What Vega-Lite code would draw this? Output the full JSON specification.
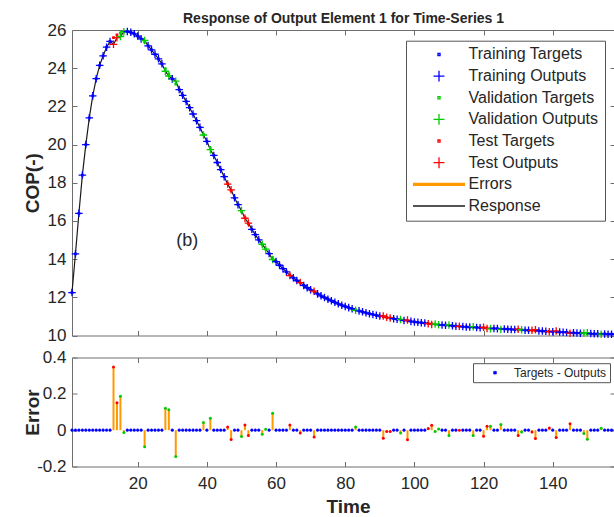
{
  "$schema": "https://vega.github.io/schema/vega-lite/v6.json",
  "background": "white",
  "autosize": {"type": "pad"},
  "padding": {"left": 22, "top": 11, "right": 0, "bottom": 0},
  "config": {
    "view": {"stroke": "#6e6e6e", "strokeWidth": 1},
    "font": "Liberation Sans",
    "axis": {"domain": false, "grid": false, "tickColor": "#6e6e6e", "tickSize": -5, "tickWidth": 1,
      "labelFont": "Liberation Sans", "labelFontSize": 17, "labelColor": "#262626",
      "titleFont": "Liberation Sans", "titleFontSize": 19, "titleFontWeight": "bold", "titleColor": "#262626"}
  },
  "datasets": {
    "d": [
      {"t":1,"set":"Training","target":12.25,"output":12.25,"error":0},
      {"t":2,"set":"Training","target":14.28,"output":14.28,"error":0},
      {"t":3,"set":"Training","target":16.4,"output":16.4,"error":0},
      {"t":4,"set":"Training","target":18.4,"output":18.4,"error":0},
      {"t":5,"set":"Training","target":20,"output":20,"error":0},
      {"t":6,"set":"Training","target":21.4,"output":21.4,"error":0},
      {"t":7,"set":"Training","target":22.55,"output":22.55,"error":0},
      {"t":8,"set":"Training","target":23.45,"output":23.45,"error":0},
      {"t":9,"set":"Training","target":24.15,"output":24.15,"error":0},
      {"t":10,"set":"Training","target":24.65,"output":24.65,"error":0},
      {"t":11,"set":"Training","target":25.1,"output":25.1,"error":0},
      {"t":12,"set":"Training","target":25.4,"output":25.4,"error":0},
      {"t":13,"set":"Test","target":25.6,"output":25.25,"error":0.348},
      {"t":14,"set":"Test","target":25.75,"output":25.6,"error":0.151},
      {"t":15,"set":"Validation","target":25.85,"output":25.66,"error":0.187},
      {"t":16,"set":"Validation","target":25.9,"output":25.91,"error":-0.013},
      {"t":17,"set":"Training","target":25.92,"output":25.92,"error":0},
      {"t":18,"set":"Training","target":25.88,"output":25.88,"error":0},
      {"t":19,"set":"Training","target":25.8,"output":25.8,"error":0},
      {"t":20,"set":"Training","target":25.68,"output":25.68,"error":0},
      {"t":21,"set":"Training","target":25.53,"output":25.53,"error":0},
      {"t":22,"set":"Validation","target":25.36,"output":25.45,"error":-0.091},
      {"t":23,"set":"Training","target":25.17,"output":25.17,"error":0},
      {"t":24,"set":"Training","target":24.96,"output":24.96,"error":0},
      {"t":25,"set":"Training","target":24.73,"output":24.73,"error":0},
      {"t":26,"set":"Training","target":24.49,"output":24.49,"error":0},
      {"t":27,"set":"Training","target":24.23,"output":24.23,"error":0},
      {"t":28,"set":"Validation","target":23.96,"output":23.84,"error":0.12},
      {"t":29,"set":"Validation","target":23.7,"output":23.59,"error":0.113},
      {"t":30,"set":"Training","target":23.44,"output":23.44,"error":0},
      {"t":31,"set":"Validation","target":23.17,"output":23.32,"error":-0.145},
      {"t":32,"set":"Training","target":22.88,"output":22.88,"error":0},
      {"t":33,"set":"Training","target":22.58,"output":22.58,"error":0},
      {"t":34,"set":"Training","target":22.26,"output":22.26,"error":0},
      {"t":35,"set":"Training","target":21.93,"output":21.93,"error":0},
      {"t":36,"set":"Training","target":21.6,"output":21.6,"error":0},
      {"t":37,"set":"Training","target":21.25,"output":21.25,"error":0},
      {"t":38,"set":"Training","target":20.9,"output":20.9,"error":0},
      {"t":39,"set":"Validation","target":20.54,"output":20.5,"error":0.042},
      {"t":40,"set":"Training","target":20.17,"output":20.17,"error":0},
      {"t":41,"set":"Validation","target":19.8,"output":19.73,"error":0.066},
      {"t":42,"set":"Training","target":19.43,"output":19.43,"error":0},
      {"t":43,"set":"Training","target":19.06,"output":19.06,"error":0},
      {"t":44,"set":"Training","target":18.69,"output":18.69,"error":0},
      {"t":45,"set":"Training","target":18.32,"output":18.32,"error":0},
      {"t":46,"set":"Test","target":17.95,"output":17.93,"error":0.018},
      {"t":47,"set":"Test","target":17.58,"output":17.63,"error":-0.051},
      {"t":48,"set":"Training","target":17.21,"output":17.21,"error":0},
      {"t":49,"set":"Training","target":16.85,"output":16.85,"error":0},
      {"t":50,"set":"Validation","target":16.5,"output":16.54,"error":-0.035},
      {"t":51,"set":"Test","target":16.17,"output":16.14,"error":0.029},
      {"t":52,"set":"Test","target":15.86,"output":15.89,"error":-0.03},
      {"t":53,"set":"Training","target":15.56,"output":15.56,"error":0},
      {"t":54,"set":"Training","target":15.28,"output":15.28,"error":0},
      {"t":55,"set":"Training","target":15.01,"output":15.01,"error":0},
      {"t":56,"set":"Validation","target":14.76,"output":14.78,"error":-0.022},
      {"t":57,"set":"Validation","target":14.52,"output":14.52,"error":0.005},
      {"t":58,"set":"Training","target":14.29,"output":14.29,"error":0},
      {"t":59,"set":"Validation","target":14.07,"output":13.98,"error":0.093},
      {"t":60,"set":"Training","target":13.87,"output":13.87,"error":0},
      {"t":61,"set":"Training","target":13.68,"output":13.68,"error":0},
      {"t":62,"set":"Training","target":13.5,"output":13.5,"error":0},
      {"t":63,"set":"Training","target":13.33,"output":13.33,"error":0},
      {"t":64,"set":"Test","target":13.17,"output":13.14,"error":0.029},
      {"t":65,"set":"Training","target":13.02,"output":13.02,"error":0},
      {"t":66,"set":"Training","target":12.88,"output":12.88,"error":0},
      {"t":67,"set":"Test","target":12.75,"output":12.77,"error":-0.016},
      {"t":68,"set":"Training","target":12.62,"output":12.62,"error":0},
      {"t":69,"set":"Training","target":12.5,"output":12.5,"error":0},
      {"t":70,"set":"Training","target":12.39,"output":12.39,"error":0},
      {"t":71,"set":"Test","target":12.28,"output":12.32,"error":-0.037},
      {"t":72,"set":"Training","target":12.18,"output":12.18,"error":0},
      {"t":73,"set":"Training","target":12.08,"output":12.08,"error":0},
      {"t":74,"set":"Training","target":11.99,"output":11.99,"error":0},
      {"t":75,"set":"Training","target":11.9,"output":11.9,"error":0},
      {"t":76,"set":"Training","target":11.82,"output":11.82,"error":0},
      {"t":77,"set":"Training","target":11.74,"output":11.74,"error":0},
      {"t":78,"set":"Training","target":11.66,"output":11.66,"error":0},
      {"t":79,"set":"Training","target":11.59,"output":11.59,"error":0},
      {"t":80,"set":"Training","target":11.52,"output":11.52,"error":0},
      {"t":81,"set":"Training","target":11.46,"output":11.46,"error":0},
      {"t":82,"set":"Training","target":11.4,"output":11.4,"error":0},
      {"t":83,"set":"Validation","target":11.34,"output":11.32,"error":0.018},
      {"t":84,"set":"Training","target":11.29,"output":11.29,"error":0},
      {"t":85,"set":"Training","target":11.24,"output":11.24,"error":0},
      {"t":86,"set":"Training","target":11.19,"output":11.19,"error":0},
      {"t":87,"set":"Training","target":11.14,"output":11.14,"error":0},
      {"t":88,"set":"Training","target":11.1,"output":11.1,"error":0},
      {"t":89,"set":"Training","target":11.06,"output":11.06,"error":0},
      {"t":90,"set":"Training","target":11.02,"output":11.02,"error":0},
      {"t":91,"set":"Test","target":10.98,"output":11.02,"error":-0.044},
      {"t":92,"set":"Test","target":10.94,"output":10.95,"error":-0.008},
      {"t":93,"set":"Test","target":10.91,"output":10.92,"error":-0.008},
      {"t":94,"set":"Training","target":10.88,"output":10.88,"error":0},
      {"t":95,"set":"Training","target":10.85,"output":10.85,"error":0},
      {"t":96,"set":"Validation","target":10.82,"output":10.84,"error":-0.015},
      {"t":97,"set":"Training","target":10.79,"output":10.79,"error":0},
      {"t":98,"set":"Test","target":10.76,"output":10.81,"error":-0.053},
      {"t":99,"set":"Training","target":10.74,"output":10.74,"error":0},
      {"t":100,"set":"Training","target":10.71,"output":10.71,"error":0},
      {"t":101,"set":"Training","target":10.69,"output":10.69,"error":0},
      {"t":102,"set":"Training","target":10.67,"output":10.67,"error":0},
      {"t":103,"set":"Training","target":10.65,"output":10.65,"error":0},
      {"t":104,"set":"Test","target":10.63,"output":10.62,"error":0.009},
      {"t":105,"set":"Test","target":10.61,"output":10.58,"error":0.027},
      {"t":106,"set":"Validation","target":10.59,"output":10.6,"error":-0.008},
      {"t":107,"set":"Validation","target":10.57,"output":10.56,"error":0.007},
      {"t":108,"set":"Training","target":10.55,"output":10.55,"error":0},
      {"t":109,"set":"Training","target":10.54,"output":10.54,"error":0},
      {"t":110,"set":"Validation","target":10.52,"output":10.55,"error":-0.03},
      {"t":111,"set":"Training","target":10.51,"output":10.51,"error":0},
      {"t":112,"set":"Training","target":10.49,"output":10.49,"error":0},
      {"t":113,"set":"Test","target":10.48,"output":10.48,"error":0},
      {"t":114,"set":"Training","target":10.47,"output":10.47,"error":0},
      {"t":115,"set":"Training","target":10.45,"output":10.45,"error":0},
      {"t":116,"set":"Training","target":10.44,"output":10.44,"error":0},
      {"t":117,"set":"Validation","target":10.43,"output":10.46,"error":-0.03},
      {"t":118,"set":"Training","target":10.42,"output":10.42,"error":0},
      {"t":119,"set":"Training","target":10.41,"output":10.41,"error":0},
      {"t":120,"set":"Test","target":10.4,"output":10.43,"error":-0.033},
      {"t":121,"set":"Test","target":10.39,"output":10.37,"error":0.022},
      {"t":122,"set":"Validation","target":10.38,"output":10.36,"error":0.022},
      {"t":123,"set":"Training","target":10.37,"output":10.37,"error":0},
      {"t":124,"set":"Training","target":10.36,"output":10.36,"error":0},
      {"t":125,"set":"Validation","target":10.35,"output":10.32,"error":0.031},
      {"t":126,"set":"Training","target":10.34,"output":10.34,"error":0},
      {"t":127,"set":"Training","target":10.33,"output":10.33,"error":0},
      {"t":128,"set":"Training","target":10.32,"output":10.32,"error":0},
      {"t":129,"set":"Training","target":10.31,"output":10.31,"error":0},
      {"t":130,"set":"Test","target":10.3,"output":10.33,"error":-0.03},
      {"t":131,"set":"Validation","target":10.29,"output":10.3,"error":-0.01},
      {"t":132,"set":"Training","target":10.28,"output":10.28,"error":0},
      {"t":133,"set":"Training","target":10.27,"output":10.27,"error":0},
      {"t":134,"set":"Test","target":10.26,"output":10.27,"error":-0.01},
      {"t":135,"set":"Test","target":10.25,"output":10.3,"error":-0.046},
      {"t":136,"set":"Training","target":10.24,"output":10.24,"error":0},
      {"t":137,"set":"Training","target":10.23,"output":10.23,"error":0},
      {"t":138,"set":"Training","target":10.22,"output":10.22,"error":0},
      {"t":139,"set":"Test","target":10.21,"output":10.2,"error":0.012},
      {"t":140,"set":"Training","target":10.2,"output":10.2,"error":0},
      {"t":141,"set":"Test","target":10.19,"output":10.23,"error":-0.04},
      {"t":142,"set":"Training","target":10.18,"output":10.18,"error":0},
      {"t":143,"set":"Training","target":10.17,"output":10.17,"error":0},
      {"t":144,"set":"Training","target":10.16,"output":10.16,"error":0},
      {"t":145,"set":"Test","target":10.15,"output":10.12,"error":0.035},
      {"t":146,"set":"Training","target":10.14,"output":10.14,"error":0},
      {"t":147,"set":"Training","target":10.13,"output":10.13,"error":0},
      {"t":148,"set":"Training","target":10.12,"output":10.12,"error":0},
      {"t":149,"set":"Validation","target":10.11,"output":10.13,"error":-0.018},
      {"t":150,"set":"Validation","target":10.1,"output":10.15,"error":-0.05},
      {"t":151,"set":"Training","target":10.1,"output":10.1,"error":0},
      {"t":152,"set":"Training","target":10.09,"output":10.09,"error":0},
      {"t":153,"set":"Training","target":10.09,"output":10.09,"error":0},
      {"t":154,"set":"Validation","target":10.08,"output":10.07,"error":0.01},
      {"t":155,"set":"Training","target":10.08,"output":10.08,"error":0},
      {"t":156,"set":"Training","target":10.07,"output":10.07,"error":0},
      {"t":157,"set":"Training","target":10.07,"output":10.07,"error":0},
      {"t":158,"set":"Training","target":10.06,"output":10.06,"error":0}
    ]
  },
  "spacing": 21.5,
  "bounds": "flush",
  "resolve": {
    "scale": {"color": "independent", "shape": "independent", "stroke": "independent", "x": "independent", "y": "independent"},
    "legend": {"color": "independent", "shape": "independent", "stroke": "independent"}
  },
  "vconcat": [
    {
      "width": 543,
      "height": 305.5,
      "title": {"text": "Response of Output Element 1 for Time-Series 1", "font": "Liberation Sans", "fontSize": 14, "fontWeight": "bold", "color": "#262626", "offset": -5, "frame": "group", "anchor": "middle"},
      "data": {"name": "d"},
      "resolve": {"axis": {"x": "independent", "y": "independent"}},
      "layer": [
        {
          "mark": {"type": "line", "color": "#1a1a1a", "strokeWidth": 1.2},
          "encoding": {
            "x": {"field": "t", "type": "quantitative", "scale": {"domain": [1, 158], "nice": false, "zero": false},
              "axis": {"orient": "bottom", "values": [20, 40, 60, 80, 100, 120, 140], "labels": false, "title": null}},
            "y": {"field": "output", "type": "quantitative", "scale": {"domain": [10, 26], "nice": false, "zero": false},
              "axis": {"orient": "left", "values": [10, 12, 14, 16, 18, 20, 22, 24, 26], "labelPadding": 11, "title": "COP(-)", "titleX": -30}}
          }
        },
        {
          "transform": [{"calculate": "datum.set + ' Targets'", "as": "series"}],
          "mark": {"type": "point", "filled": false, "size": 1280, "strokeWidth": 1.3, "opacity": 1},
          "encoding": {
            "x": {"field": "t", "type": "quantitative", "axis": {"orient": "top", "values": [20, 40, 60, 80, 100, 120, 140], "labels": false, "title": null}},
            "y": {"field": "target", "type": "quantitative", "axis": {"orient": "right", "values": [10, 12, 14, 16, 18, 20, 22, 24, 26], "labels": false, "title": null}},
            "color": {"field": "series", "type": "nominal",
              "scale": {"domain": ["Training Targets", "Training Outputs", "Validation Targets", "Validation Outputs", "Test Targets", "Test Outputs", "Errors", "Response"],
                "range": ["#0000FF", "#0000FF", "#00CC00", "#00CC00", "#FF0000", "#FF0000", "#FF9900", "#1a1a1a"]},
              "legend": {"title": null, "orient": "none", "legendX": 334, "legendY": 10.7, "symbolSize": 2704, "symbolStrokeWidth": 1.3,
                "clipHeight": 15.5, "rowPadding": 4.65, "padding": 6, "labelOffset": 2.5, "labelFont": "Arial", "labelFontSize": 16,
                "columns": 1, "columnPadding": 0, "symbolOffset": 0,
                "labelColor": "#262626", "strokeColor": "#555555", "fillColor": "white", "symbolOpacity": 1}},
            "shape": {"field": "series", "type": "nominal",
              "scale": {"domain": ["Training Targets", "Training Outputs", "Validation Targets", "Validation Outputs", "Test Targets", "Test Outputs", "Errors", "Response"],
                "range": ["M-0.04,-0.04H0.04V0.04H-0.04Z", "M-0.21,0H0.21M0,-0.21V0.21", "M-0.04,-0.04H0.04V0.04H-0.04Z", "M-0.21,0H0.21M0,-0.21V0.21", "M-0.04,-0.04H0.04V0.04H-0.04Z", "M-0.21,0H0.21M0,-0.21V0.21", "M-1,-0.035H1M-1,0H1M-1,0.035H1", "M-1,0H1"]},
              "legend": {"title": null, "orient": "none", "legendX": 334, "legendY": 10.7, "symbolSize": 2704, "symbolStrokeWidth": 1.3,
                "clipHeight": 15.5, "rowPadding": 4.65, "padding": 6, "labelOffset": 2.5, "labelFont": "Arial", "labelFontSize": 16,
                "columns": 1, "columnPadding": 0, "symbolOffset": 0,
                "labelColor": "#262626", "strokeColor": "#555555", "fillColor": "white", "symbolOpacity": 1}}
          }
        },
        {
          "transform": [{"calculate": "datum.set + ' Outputs'", "as": "series"}],
          "mark": {"type": "point", "filled": false, "size": 1280, "strokeWidth": 1.3, "opacity": 1},
          "encoding": {
            "x": {"field": "t", "type": "quantitative", "axis": null},
            "y": {"field": "output", "type": "quantitative", "axis": null},
            "color": {"field": "series", "type": "nominal"},
            "shape": {"field": "series", "type": "nominal"}
          }
        },
        {
          "data": {"values": [{"label": "(b)"}]},
          "mark": {"type": "text", "font": "Liberation Sans", "fontSize": 18, "color": "#262626"},
          "encoding": {
            "x": {"datum": 34.3, "type": "quantitative", "axis": null},
            "y": {"datum": 14.96, "type": "quantitative", "axis": null},
            "text": {"field": "label"}
          }
        }
      ]
    },
    {
      "width": 543,
      "height": 109,
      "data": {"name": "d"},
      "resolve": {"axis": {"x": "independent", "y": "independent"}},
      "layer": [
        {
          "mark": {"type": "rule", "color": "#FF9900", "strokeWidth": 2},
          "encoding": {
            "x": {"field": "t", "type": "quantitative", "scale": {"domain": [1, 158], "nice": false, "zero": false},
              "axis": {"orient": "bottom", "values": [20, 40, 60, 80, 100, 120, 140], "labelPadding": 14.4, "title": "Time", "titleY": 31, "titleX": 276}},
            "y": {"field": "error", "type": "quantitative", "scale": {"domain": [-0.2, 0.4], "nice": false, "zero": false},
              "axis": {"orient": "left", "values": [-0.2, 0, 0.2, 0.4], "labelPadding": 11, "title": "Error", "titleX": -30,
                "labelExpr": "datum.value == 0 ? '0' : (datum.value < 0 ? '-' + format(-datum.value, '.1f') : format(datum.value, '.1f'))"}},
            "y2": {"datum": 0}
          }
        },
        {
          "transform": [{"filter": "datum.set == 'Training'"}],
          "mark": {"type": "point", "filled": true, "shape": "circle", "size": 7, "fill": "#0000FF", "strokeWidth": 0.5, "opacity": 1},
          "encoding": {
            "x": {"field": "t", "type": "quantitative", "axis": {"orient": "top", "values": [20, 40, 60, 80, 100, 120, 140], "labels": false, "title": null}},
            "y": {"field": "error", "type": "quantitative", "axis": {"orient": "right", "values": [-0.2, 0, 0.2, 0.4], "labels": false, "title": null}},
            "stroke": {"datum": "Targets - Outputs", "scale": {"range": ["#0000FF"]},
              "legend": {"title": null, "orient": "none", "legendX": 401, "legendY": 5.7, "symbolType": "M-0.07,-0.07H0.07V0.07H-0.07Z",
                "symbolSize": 1369, "symbolFillColor": "#0000FF", "symbolStrokeWidth": 0.8, "clipHeight": 13, "padding": 3,
                "labelOffset": 0, "labelFont": "Arial", "labelFontSize": 12, "labelColor": "#262626", "strokeColor": "#555555", "fillColor": "white"}}
          }
        },
        {
          "transform": [{"filter": "datum.set != 'Training'"}],
          "mark": {"type": "point", "filled": true, "shape": "circle", "size": 9, "opacity": 1},
          "encoding": {
            "x": {"field": "t", "type": "quantitative", "axis": null},
            "y": {"field": "error", "type": "quantitative", "axis": null},
            "color": {"field": "set", "type": "nominal", "scale": {"domain": ["Validation", "Test"], "range": ["#00CC00", "#FF0000"]}, "legend": null}
          }
        }
      ]
    }
  ]
}
